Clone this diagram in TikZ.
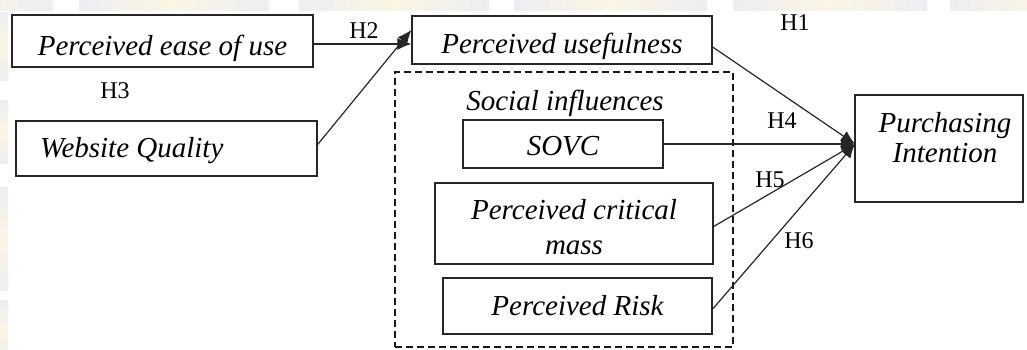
\documentclass[tikz,border=0pt]{standalone}
\usepackage{fontspec}
\setmainfont{Liberation Serif}
\usetikzlibrary{arrows.meta}
\definecolor{wmgrey}{HTML}{ECEEF2}
\definecolor{wmyellow}{HTML}{FCF5E4}
\tikzset{
  box/.style={draw=black!85, line width=1.3pt, inner sep=0pt, fill=white,
    font=\fontsize{29}{32}\selectfont\itshape},
  ittext/.style={inner sep=0pt, font=\fontsize{29}{30}\selectfont\itshape},
  hlabel/.style={inner sep=0pt, font=\fontsize{24}{26}\selectfont},
  link/.style={line width=1.2pt, draw=black!85},
  arr/.style={link, -{Latex[length=14pt,width=12pt]}},
  group/.style={draw=black!90, line width=1.6pt, dash pattern=on 7pt off 4pt, inner sep=0pt},
  wmtop/.style={left color=wmgrey, right color=wmgrey, middle color=wmyellow},
  wmside/.style={top color=wmgrey, bottom color=wmgrey, middle color=wmyellow},
}
\begin{document}
\begin{tikzpicture}[x=1pt,y=-1pt]
\useasboundingbox (0,0) rectangle (1027,349);
\fill[white] (0,0) rectangle (1027,349);

% faint page decoration along the top and left edges
\foreach \a/\b in {-140/53,79/269,299/489,514/707,733/927,950/1140}
  \shade[wmtop] (\a,0) rectangle (\b,10);
\foreach \a/\b in {12/80,100/163,187/290,300/360}
  \shade[wmside] (0,\a) rectangle (8,\b);

% dashed group of social influences
\node[group, minimum width=338pt, minimum height=275pt] (social) at (564,209.5) {};
\node[ittext] (socialtitle) at (565,103) {Social influences};

% construct boxes
\node[box, minimum width=301pt, minimum height=52pt, text height=34pt, text depth=6pt]
  (peou) at (162.5,41) {Perceived ease of use};
\node[box, minimum width=301pt, minimum height=55pt, text height=23pt, text depth=6pt,
  inner xsep=24pt, text width=253pt, align=flush left]
  (wq) at (166.5,148.5) {Website Quality};
\node[box, minimum width=300pt, minimum height=48pt, text height=32pt, text depth=6pt]
  (pu) at (562,40) {Perceived usefulness};
\node[box, minimum width=200pt, minimum height=48pt, text height=28pt, text depth=6pt]
  (sovc) at (563,144) {SOVC};
\node[box, minimum width=278pt, minimum height=81pt, align=center,
  font=\fontsize{29}{35}\selectfont\itshape]
  (pcm) at (574,223.5) {\rule{0pt}{27pt}Perceived critical\\mass};
\node[box, minimum width=269pt, minimum height=56pt, text height=24pt, text depth=6pt]
  (pr) at (577.5,306) {Perceived Risk};
\node[box, minimum width=168pt, minimum height=107pt] (pi) at (939,148.5) {};
\node[ittext, align=center] (pitext) at (945,138) {Purchasing\\Intention};

% hypotheses paths
\coordinate (hub) at (855,144);
\draw[arr] (peou.east |- 0,44) -- (pu.west |- 0,44);
\draw[arr] ([yshift=4pt]wq.east) -- ([yshift=10pt]pu.west);
\draw[arr] ([yshift=-7pt]pu.east) -- (hub);
\draw[arr] (sovc.east) -- (hub);
\draw[arr] ([yshift=-3pt]pcm.east) -- (hub);
\draw[arr] ([yshift=-3pt]pr.east) -- (hub);

% hypothesis labels
\node[hlabel] (h1) at (795,23) {H1};
\node[hlabel] (h2) at (364,31) {H2};
\node[hlabel] (h3) at (115,91) {H3};
\node[hlabel] (h4) at (782,121) {H4};
\node[hlabel] (h5) at (770,180) {H5};
\node[hlabel] (h6) at (799,241) {H6};
\end{tikzpicture}
\end{document}
